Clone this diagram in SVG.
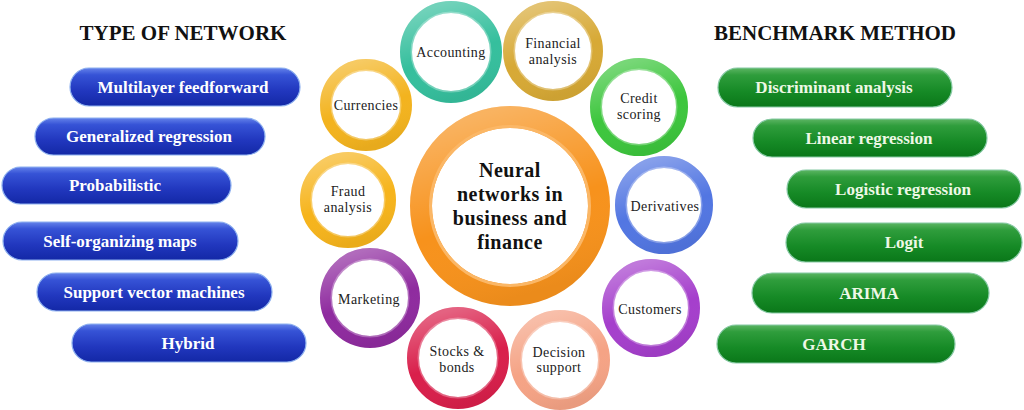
<svg xmlns="http://www.w3.org/2000/svg" width="1024" height="410" viewBox="0 0 1024 410">
<defs>
<linearGradient id="gBlue" x1="0" y1="0" x2="0" y2="1">
<stop offset="0" stop-color="#6482ea"/>
<stop offset="0.18" stop-color="#3653d6"/>
<stop offset="0.6" stop-color="#2137be"/>
<stop offset="1" stop-color="#1328a6"/>
</linearGradient>
<linearGradient id="gGreen" x1="0" y1="0" x2="0" y2="1">
<stop offset="0" stop-color="#5cb563"/>
<stop offset="0.18" stop-color="#2f9d3c"/>
<stop offset="0.6" stop-color="#168a26"/>
<stop offset="1" stop-color="#0a7719"/>
</linearGradient>
<linearGradient id="gloss" x1="0.3" y1="0" x2="0.6" y2="1">
<stop offset="0" stop-color="#ffffff" stop-opacity="0.3"/>
<stop offset="0.4" stop-color="#ffffff" stop-opacity="0.08"/>
<stop offset="0.55" stop-color="#ffffff" stop-opacity="0"/>
<stop offset="1" stop-color="#000000" stop-opacity="0.05"/>
</linearGradient>
</defs>
<style>
text{font-family:"Liberation Serif","DejaVu Serif","Noto Serif",serif}
.title{font-weight:bold;font-size:21px;fill:#111;text-anchor:middle}
.pill-b{fill:url(#gBlue);stroke:#8db0ef;stroke-width:1.2}
.pill-g{fill:url(#gGreen);stroke:#86c9a4;stroke-width:1.2}
.pt{font-weight:bold;font-size:17px;text-anchor:middle}
.pt-b{fill:#ffffff}
.pt-g{fill:#eef8e6}
.ring{fill:#ffffff;stroke-width:12}
.gl{fill:none;stroke:url(#gloss);stroke-width:12}
.rim{fill:none;stroke:#ffffff;stroke-opacity:0.3;stroke-width:2}
.ct{font-size:14px;fill:#222;text-anchor:middle;letter-spacing:0.4px}
.big{font-weight:bold;font-size:20px;fill:#111;text-anchor:middle;letter-spacing:0.5px}
</style>
<rect width="1024" height="410" fill="#ffffff"/>

<text class="title" x="183" y="40" font-family="Liberation Serif">TYPE OF NETWORK</text>
<text class="title" x="835" y="40" font-family="Liberation Serif">BENCHMARK METHOD</text>

<g id="type-network">
<g id="multilayer-feedforward"><rect class="pill-b" x="70" y="68" width="230" height="38" rx="19"/><text class="pt pt-b" x="183" y="93">Multilayer feedforward</text></g>
<g id="generalized-regression"><rect class="pill-b" x="35" y="118" width="230" height="37" rx="18.5"/><text class="pt pt-b" x="149" y="142">Generalized regression</text></g>
<g id="probabilistic"><rect class="pill-b" x="2" y="167" width="229" height="37" rx="18.5"/><text class="pt pt-b" x="115" y="191">Probabilistic</text></g>
<g id="self-organizing-maps"><rect class="pill-b" x="3" y="222" width="235" height="38" rx="19"/><text class="pt pt-b" x="120" y="247">Self-organizing maps</text></g>
<g id="support-vector-machines"><rect class="pill-b" x="37" y="273" width="235" height="38" rx="19"/><text class="pt pt-b" x="154" y="298">Support vector machines</text></g>
<g id="hybrid"><rect class="pill-b" x="72" y="324" width="234" height="38" rx="19"/><text class="pt pt-b" x="188" y="349">Hybrid</text></g>
</g>

<g id="benchmark-method">
<g id="discriminant-analysis"><rect class="pill-g" x="718" y="68" width="234" height="39" rx="19.5"/><text class="pt pt-g" x="834" y="93">Discriminant analysis</text></g>
<g id="linear-regression"><rect class="pill-g" x="753" y="119" width="234" height="38" rx="19"/><text class="pt pt-g" x="869" y="144">Linear regression</text></g>
<g id="logistic-regression"><rect class="pill-g" x="787" y="170" width="234" height="38" rx="19"/><text class="pt pt-g" x="903" y="195">Logistic regression</text></g>
<g id="logit"><rect class="pill-g" x="786" y="223" width="236" height="39" rx="19.5"/><text class="pt pt-g" x="904" y="248">Logit</text></g>
<g id="arima"><rect class="pill-g" x="752" y="273" width="237" height="40" rx="20"/><text class="pt pt-g" x="869" y="299">ARIMA</text></g>
<g id="garch"><rect class="pill-g" x="717" y="325" width="238" height="38" rx="19"/><text class="pt pt-g" x="834" y="350">GARCH</text></g>
</g>

<g id="connectors"></g>

<g id="center">
<circle cx="510" cy="206" r="89" fill="#ffffff" stroke="#f7921c" stroke-width="22"/>
<circle cx="510" cy="206" r="89" fill="none" stroke="url(#gloss)" stroke-width="22"/>
<circle cx="510" cy="206" r="79.5" fill="none" stroke="#fbb766" stroke-width="3"/>
<text class="big" x="510" y="177">Neural</text>
<text class="big" x="510" y="201">networks in</text>
<text class="big" x="510" y="225">business and</text>
<text class="big" x="510" y="249">finance</text>
</g>

<g id="accounting">
<circle class="ring" cx="451" cy="52" r="45" stroke="#35bf9d"/><circle class="gl" cx="451" cy="52" r="45"/><circle class="rim" cx="451" cy="52" r="39.5"/>
<text class="ct" x="451" y="57">Accounting</text>
</g>
<g id="financial-analysis">
<circle class="ring" cx="553" cy="51" r="44" stroke="#d7a935"/><circle class="gl" cx="553" cy="51" r="44"/><circle class="rim" cx="553" cy="51" r="38.5"/>
<text class="ct" x="553" y="48">Financial</text><text class="ct" x="553" y="64">analysis</text>
</g>
<g id="credit-scoring">
<circle class="ring" cx="639" cy="107" r="43" stroke="#3dc63d"/><circle class="gl" cx="639" cy="107" r="43"/><circle class="rim" cx="639" cy="107" r="37.5"/>
<text class="ct" x="639" y="103">Credit</text><text class="ct" x="639" y="119">scoring</text>
</g>
<g id="currencies">
<circle class="ring" cx="366" cy="105" r="40" stroke="#f3b31e"/><circle class="gl" cx="366" cy="105" r="40"/><circle class="rim" cx="366" cy="105" r="34.5"/>
<text class="ct" x="366" y="110">Currencies</text>
</g>
<g id="fraud-analysis">
<circle class="ring" cx="348" cy="200" r="42" stroke="#f6b41c"/><circle class="gl" cx="348" cy="200" r="42"/><circle class="rim" cx="348" cy="200" r="36.5"/>
<text class="ct" x="348" y="196">Fraud</text><text class="ct" x="348" y="212">analysis</text>
</g>
<g id="derivatives">
<circle class="ring" cx="664" cy="205" r="43" stroke="#5276e2"/><circle class="gl" cx="664" cy="205" r="43"/><circle class="rim" cx="664" cy="205" r="37.5"/>
<text class="ct" x="665" y="211">Derivatives</text>
</g>
<g id="marketing">
<circle class="ring" cx="370" cy="298" r="44" stroke="#8f2b9f"/><circle class="gl" cx="370" cy="298" r="44"/><circle class="rim" cx="370" cy="298" r="38.5"/>
<text class="ct" x="369" y="304">Marketing</text>
</g>
<g id="customers">
<circle class="ring" cx="651" cy="308" r="43" stroke="#a53fcc"/><circle class="gl" cx="651" cy="308" r="43"/><circle class="rim" cx="651" cy="308" r="37.5"/>
<text class="ct" x="650" y="314">Customers</text>
</g>
<g id="stocks-bonds">
<circle class="ring" cx="458" cy="358" r="45" stroke="#d91f4b"/><circle class="gl" cx="458" cy="358" r="45"/><circle class="rim" cx="458" cy="358" r="39.5"/>
<text class="ct" x="457" y="356">Stocks &amp;</text><text class="ct" x="457" y="372">bonds</text>
</g>
<g id="decision-support">
<circle class="ring" cx="560" cy="360" r="44" stroke="#f5a385"/><circle class="gl" cx="560" cy="360" r="44"/><circle class="rim" cx="560" cy="360" r="38.5"/>
<text class="ct" x="559" y="357">Decision</text><text class="ct" x="559" y="372">support</text>
</g>
</svg>
